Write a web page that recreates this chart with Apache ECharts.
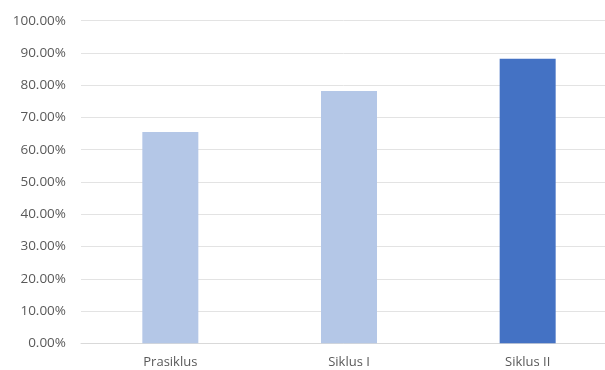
<!DOCTYPE html>
<html>
<head>
<meta charset="utf-8">
<script src="https://cdn.jsdelivr.net/npm/echarts@6/dist/echarts.min.js"></script>
<style>
html,body{margin:0;padding:0;background:#fff;}
#chart{width:605px;height:370px;}
</style>
</head>
<body>
<div id="chart"></div>
<script>
const categories = ["Prasiklus", "Siklus I", "Siklus II"];
const values = [65.5, 78.2, 88.2];
const yTicks = [0, 10, 20, 30, 40, 50, 60, 70, 80, 90, 100];
const barColors = ["#B4C7E7", "#B4C7E7", "#4472C4"];

const chart = echarts.init(document.getElementById('chart'), null, {renderer: 'canvas'});
chart.setOption({
  animation: false,
  backgroundColor: '#ffffff',
  grid: {left: 81, top: 20.7, width: 536, height: 322.6, containLabel: false, outerBoundsMode: 'none'},
  xAxis: {
    type: 'category',
    data: categories,
    axisLine: {show: true, lineStyle: {color: '#d9d9d9', width: 1}},
    axisTick: {show: false},
    axisLabel: {color: '#595959', fontSize: 13, fontFamily: 'Open Sans', margin: 12}
  },
  yAxis: {
    type: 'value',
    min: yTicks[0],
    max: yTicks[yTicks.length - 1],
    interval: 10,
    axisLine: {show: false},
    axisTick: {show: false},
    splitLine: {lineStyle: {color: '#e3e3e3', width: 1}},
    axisLabel: {
      color: '#595959', fontSize: 13.5, fontFamily: 'Open Sans', margin: 15,
      formatter: v => v.toFixed(2) + '%'
    }
  },
  series: [{
    type: 'bar',
    barWidth: 56,
    data: values.map((v, i) => ({value: v, itemStyle: {color: barColors[i]}}))
  }]
});
</script>
</body>
</html>
